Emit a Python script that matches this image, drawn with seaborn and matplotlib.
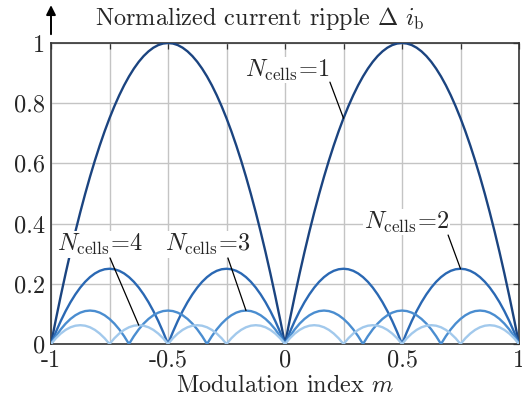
import numpy as np
import pandas as pd
import matplotlib
matplotlib.use("Agg")
import matplotlib.pyplot as plt
import seaborn as sns

# ---- data ----
m = np.linspace(-1, 1, 97)

ripple_n1 = [0, .0816, .1597, .2344, .3056, .3733, .4375, .4983, .5556, .6094, .6597, .7066,
             .75, .7899, .8264, .8594, .8889, .9149, .9375, .9566, .9722, .9844, .9931, .9983,
             1.0, .9983, .9931, .9844, .9722, .9566, .9375, .9149, .8889, .8594, .8264, .7899,
             .75, .7066, .6597, .6094, .5556, .4983, .4375, .3733, .3056, .2344, .1597, .0816,
             0, .0816, .1597, .2344, .3056, .3733, .4375, .4983, .5556, .6094, .6597, .7066,
             .75, .7899, .8264, .8594, .8889, .9149, .9375, .9566, .9722, .9844, .9931, .9983,
             1.0, .9983, .9931, .9844, .9722, .9566, .9375, .9149, .8889, .8594, .8264, .7899,
             .75, .7066, .6597, .6094, .5556, .4983, .4375, .3733, .3056, .2344, .1597, .0816,
             0]

ripple_n2 = [0, .0399, .0764, .1094, .1389, .1649, .1875, .2066, .2222, .2344, .2431, .2483,
             .25, .2483, .2431, .2344, .2222, .2066, .1875, .1649, .1389, .1094, .0764, .0399,
             0, .0399, .0764, .1094, .1389, .1649, .1875, .2066, .2222, .2344, .2431, .2483,
             .25, .2483, .2431, .2344, .2222, .2066, .1875, .1649, .1389, .1094, .0764, .0399,
             0, .0399, .0764, .1094, .1389, .1649, .1875, .2066, .2222, .2344, .2431, .2483,
             .25, .2483, .2431, .2344, .2222, .2066, .1875, .1649, .1389, .1094, .0764, .0399,
             0, .0399, .0764, .1094, .1389, .1649, .1875, .2066, .2222, .2344, .2431, .2483,
             .25, .2483, .2431, .2344, .2222, .2066, .1875, .1649, .1389, .1094, .0764, .0399,
             0]

ripple_n3 = [0, .0260, .0486, .0677, .0833, .0955, .1042, .1094, .1111, .1094, .1042, .0955, .0833, .0677, .0486, .0260,
             0, .0260, .0486, .0677, .0833, .0955, .1042, .1094, .1111, .1094, .1042, .0955, .0833, .0677, .0486, .0260,
             0, .0260, .0486, .0677, .0833, .0955, .1042, .1094, .1111, .1094, .1042, .0955, .0833, .0677, .0486, .0260,
             0, .0260, .0486, .0677, .0833, .0955, .1042, .1094, .1111, .1094, .1042, .0955, .0833, .0677, .0486, .0260,
             0, .0260, .0486, .0677, .0833, .0955, .1042, .1094, .1111, .1094, .1042, .0955, .0833, .0677, .0486, .0260,
             0, .0260, .0486, .0677, .0833, .0955, .1042, .1094, .1111, .1094, .1042, .0955, .0833, .0677, .0486, .0260,
             0]

ripple_n4 = [0, .0191, .0347, .0469, .0556, .0608, .0625, .0608, .0556, .0469, .0347, .0191,
             0, .0191, .0347, .0469, .0556, .0608, .0625, .0608, .0556, .0469, .0347, .0191,
             0, .0191, .0347, .0469, .0556, .0608, .0625, .0608, .0556, .0469, .0347, .0191,
             0, .0191, .0347, .0469, .0556, .0608, .0625, .0608, .0556, .0469, .0347, .0191,
             0, .0191, .0347, .0469, .0556, .0608, .0625, .0608, .0556, .0469, .0347, .0191,
             0, .0191, .0347, .0469, .0556, .0608, .0625, .0608, .0556, .0469, .0347, .0191,
             0, .0191, .0347, .0469, .0556, .0608, .0625, .0608, .0556, .0469, .0347, .0191,
             0, .0191, .0347, .0469, .0556, .0608, .0625, .0608, .0556, .0469, .0347, .0191,
             0]

n_cells = ["1", "2", "3", "4"]
series = [ripple_n1, ripple_n2, ripple_n3, ripple_n4]
colors = ["#1b4480", "#2a68b3", "#4a8dd0", "#a2c9ec"]

x_ticks = [-1, -0.5, 0, 0.5, 1]
x_ticklabels = ["-1", "-0.5", "0", "0.5", "1"]
x_minor = [-0.75, -0.25, 0.25, 0.75]
y_ticks = [0, 0.2, 0.4, 0.6, 0.8, 1]
y_ticklabels = ["0", "0.2", "0.4", "0.6", "0.8", "1"]

# ---- long table ----
frames = []
for n, vals in zip(n_cells, series):
    assert len(vals) == len(m)
    frames.append(pd.DataFrame({"m": m, "ripple": vals, "N": n}))
df = pd.concat(frames, ignore_index=True)

sns.set_theme(style="white")
plt.rcParams["font.family"] = ["cmr10", "DejaVu Serif"]
plt.rcParams["mathtext.fontset"] = "cm"
plt.rcParams["axes.formatter.use_mathtext"] = True
plt.rcParams["axes.unicode_minus"] = False

FS = 17.5
fig = plt.figure(figsize=(5.22, 4.00), dpi=100)
ax = fig.add_axes([51 / 522, 1 - 344 / 400, (519 - 51) / 522, (344 - 43) / 400])

sns.lineplot(data=df, x="m", y="ripple", hue="N", palette=dict(zip(n_cells, colors)),
             linewidth=1.7, legend=False, ax=ax, zorder=3)

ax.set_xlim(-1, 1)
ax.set_ylim(0, 1)
ax.set_xticks(x_ticks)
ax.set_xticklabels(x_ticklabels)
ax.set_xticks(x_minor, minor=True)
ax.set_yticks(y_ticks)
ax.set_yticklabels(y_ticklabels)
ax.grid(True, which="both", color="#c4c4c4", linewidth=1.0)
ax.set_axisbelow(True)
ax.tick_params(axis="both", which="both", direction="in", top=True, right=True,
               length=4, width=0.9, color="#333333", labelsize=FS, pad=4)
ax.tick_params(axis="both", which="minor", labelbottom=False)
for s in ax.spines.values():
    s.set_color("#333333")
    s.set_linewidth(1.2)

ax.set_xlabel(r"Modulation index $m$", fontsize=FS, labelpad=2)
ax.set_ylabel("")

fig.text(95 / 522, 1 - 18 / 400, r"Normalized current ripple $\Delta\ i_\mathrm{b}$",
         fontsize=FS, ha="left", va="center")

ax.annotate("", xy=(0, 1.135), xytext=(0, 1.02), xycoords="axes fraction",
            textcoords="axes fraction", annotation_clip=False,
            arrowprops=dict(arrowstyle="-|>", color="black", lw=1.4, mutation_scale=14))

# annotations
labels = [
    (r"$N_{\mathrm{cells}}\!=\!1$", (0.01, 0.91), (0.192, 0.870), (m[60], ripple_n1[60])),
    (r"$N_{\mathrm{cells}}\!=\!2$", (0.52, 0.405), (0.697, 0.362), (m[84], ripple_n2[84])),
    (r"$N_{\mathrm{cells}}\!=\!3$", (-0.33, 0.33), (-0.244, 0.286), (m[40], ripple_n3[40])),
    (r"$N_{\mathrm{cells}}\!=\!4$", (-0.79, 0.33), (-0.748, 0.286), (m[18], ripple_n4[18])),
]
for txt, tpos, lstart, target in labels:
    ax.text(tpos[0], tpos[1], txt, fontsize=FS, ha="center", va="center", zorder=5,
            bbox=dict(facecolor="white", edgecolor="none", pad=0.5))
    ax.annotate("", xy=target, xytext=lstart,
                arrowprops=dict(arrowstyle="-", color="black", lw=0.9,
                                shrinkA=0, shrinkB=0), zorder=5)

fig.savefig("out.png", dpi=100)
